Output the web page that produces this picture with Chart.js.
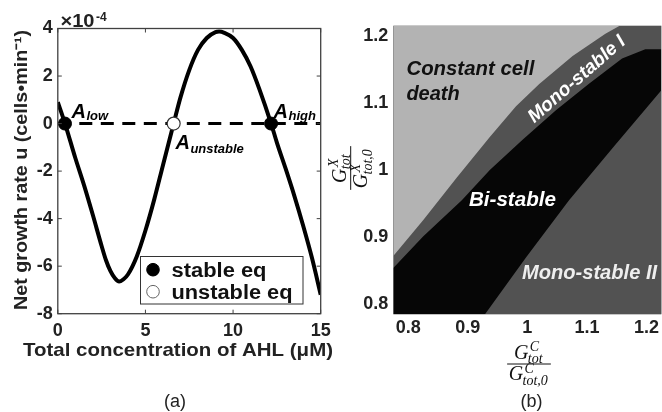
<!DOCTYPE html>
<html><head><meta charset="utf-8">
<script src="https://cdn.jsdelivr.net/npm/chart.js@4.4.1/dist/chart.umd.min.js"></script>
<style>
html,body{margin:0;padding:0;background:#fff;}
#wrap{position:relative;width:662px;height:412px;overflow:hidden;}
canvas{position:absolute;left:0;top:0;}
</style></head><body>
<div id="wrap"><canvas id="ca" width="662" height="412"></canvas><canvas id="cb" width="662" height="412"></canvas></div>
<script>
// ---------- Panel (a) data ----------
const ahlConc    = [0, 0.41, 1.0, 1.5, 2.0, 2.5, 2.75, 3.0, 3.25, 3.5, 3.75, 4.0, 4.5, 5.0, 5.5, 6.0, 6.61, 7.0, 7.5, 8.0, 8.5, 9.0, 9.2, 9.5, 10.0, 10.5, 11.0, 11.5, 12.17, 12.5, 13.0, 13.5, 14.0, 14.5, 15.0];
const growthRate = [0.9, 0, -1.45, -2.6, -3.85, -5.15, -5.75, -6.2, -6.5, -6.65, -6.55, -6.35, -5.6, -4.5, -3.2, -1.75, 0, 1.1, 2.25, 3.1, 3.6, 3.85, 3.87, 3.82, 3.6, 3.1, 2.4, 1.45, 0, -0.8, -1.9, -3.05, -4.3, -5.65, -7.2]; // x1e-4
const zeroLineX   = [0, 15];
const zeroLineY   = [0, 0];
const stableEqX   = [0.41, 12.17];
const stableEqY   = [0, 0];
const unstableEqX = [6.61];
const unstableEqY = [0];
const aXTicks = [0, 5, 10, 15];
const aYTicks = [-8, -6, -4, -2, 0, 2, 4];
const eqLabels = ['A', 'A', 'A'];
const eqSubs   = ['low', 'unstable', 'high'];
const legendLabels = ['stable eq', 'unstable eq'];

// ---------- Panel (b) data ----------
const deathEdgeX = [0.775, 0.825, 0.881, 0.937, 0.981, 1.020, 1.076, 1.131, 1.155, 1.225];
const deathEdgeY = [0.872, 0.925, 0.988, 1.049, 1.095, 1.128, 1.170, 1.203, 1.215, 1.275];
const biTopX     = [0.775, 0.825, 0.890, 0.937, 0.992, 1.048, 1.104, 1.159, 1.198, 1.225];
const biTopY     = [0.854, 0.901, 0.955, 1.000, 1.045, 1.089, 1.129, 1.166, 1.180, 1.180];
const biBottomX  = [0.775, 0.928, 0.998, 1.070, 1.147, 1.225];
const biBottomY  = [0.599, 0.784, 0.870, 0.955, 1.037, 1.119];
const bXTicks = [0.8, 0.9, 1, 1.1, 1.2];
const bXTickLabels = ['0.8', '0.9', '1', '1.1', '1.2'];
const bYTicks = [0.8, 0.9, 1, 1.1, 1.2];
const bYTickLabels = ['0.8', '0.9', '1', '1.1', '1.2'];
const regionNames = ['Constant cell', 'death', 'Mono-stable I', 'Bi-stable', 'Mono-stable II'];

// ---------- helpers ----------
const SANS = "'Liberation Sans', Arial, Helvetica, sans-serif";
const SERIF = "'Liberation Serif', 'Times New Roman', serif";
const pts = (xs, ys) => xs.map((x, i) => ({x: x, y: ys[i]}));

function txt(ctx, s, x, y, font, color, align, targetW, rot) {
  ctx.save();
  ctx.font = font; ctx.fillStyle = color; ctx.textBaseline = 'alphabetic';
  ctx.translate(x, y);
  if (rot) ctx.rotate(rot);
  let sx = 1;
  if (targetW) sx = targetW / ctx.measureText(s).width;
  ctx.scale(sx, 1);
  ctx.textAlign = align || 'left';
  ctx.fillText(s, 0, 0);
  ctx.restore();
}
function textW(ctx, s, font) { ctx.save(); ctx.font = font; const w = ctx.measureText(s).width; ctx.restore(); return w; }

function frac(ctx, cx, cy, rot, sup, subN, subD) {
  ctx.save();
  ctx.translate(cx, cy);
  if (rot) ctx.rotate(rot);
  ctx.fillStyle = '#111'; ctx.strokeStyle = '#111';
  ctx.textAlign = 'left'; ctx.textBaseline = 'alphabetic';
  const big = "italic 20px " + SERIF, small = "italic 14px " + SERIF;
  function part(baseY, sub, supDy, subDy) {
    ctx.font = big; const wG = ctx.measureText('G').width;
    ctx.font = small; const wS = Math.max(ctx.measureText(sup).width, ctx.measureText(sub).width);
    const w = wG + 1 + wS, x0 = -w / 2;
    ctx.font = big; ctx.fillText('G', x0, baseY);
    ctx.font = small;
    ctx.fillText(sup, x0 + wG + 1.5, baseY + supDy);
    ctx.fillText(sub, x0 + wG - 0.5, baseY + subDy);
    return w;
  }
  const w1 = part(-5, subN, -8, 4);
  const w2 = part(16, subD, -7, 5);
  const bw = Math.max(w1, w2) + 3;
  ctx.lineWidth = 1;
  ctx.beginPath(); ctx.moveTo(-bw / 2, 0); ctx.lineTo(bw / 2, 0); ctx.stroke();
  ctx.restore();
}

// ---------- Panel (a) ----------
const panelA = {
  id: 'panelA',
  afterDatasetsDraw(chart) {
    const ctx = chart.ctx, a = chart.chartArea, xs = chart.scales.x, ys = chart.scales.y;
    ctx.save();
    ctx.strokeStyle = '#404040'; ctx.lineWidth = 1.3;
    ctx.strokeRect(a.left, a.top, a.right - a.left, a.bottom - a.top);
    ctx.lineWidth = 1;
    ctx.beginPath();
    aXTicks.forEach(v => {
      const p = xs.getPixelForValue(v);
      ctx.moveTo(p, a.bottom); ctx.lineTo(p, a.bottom - 4);
      ctx.moveTo(p, a.top); ctx.lineTo(p, a.top + 4);
    });
    aYTicks.forEach(v => {
      const p = ys.getPixelForValue(v);
      ctx.moveTo(a.left, p); ctx.lineTo(a.left + 4, p);
      ctx.moveTo(a.right, p); ctx.lineTo(a.right - 4, p);
    });
    ctx.stroke();
    ctx.restore();
  },
  afterDraw(chart) {
    const ctx = chart.ctx, xs = chart.scales.x, ys = chart.scales.y;
    const AF = "italic bold 20px " + SANS, SF = "italic bold 13px " + SANS;
    const aw = textW(ctx, 'A', AF);
    // equilibrium annotations
    const eqXs = [stableEqX[0], unstableEqX[0], stableEqX[1]];
    const offs = [[6.5, -5.5, -3.5], [1.8, 25.2, 29], [2.5, -6, -4]];
    eqXs.forEach((v, i) => {
      const px = xs.getPixelForValue(v), py = ys.getPixelForValue(0);
      const o = offs[i];
      txt(ctx, eqLabels[i], px + o[0], py + o[1], AF, '#000');
      txt(ctx, eqSubs[i], px + o[0] + aw + 0.5, py + o[2], SF, '#000');
    });
    // exponent
    txt(ctx, '\u00d710', 60.5, 26.7, "bold 18px " + SANS, '#222', 'left', 34);
    txt(ctx, '-4', 96, 21, "bold 12px " + SANS, '#222');
    // axis titles
    txt(ctx, 'Total concentration of AHL (\u03bcM)', 178, 356, "bold 19px " + SANS, '#222', 'center', 310);
    txt(ctx, 'Net growth rate u (cells\u2022min\u207b\u00b9)', 26.5, 170, "bold 18px " + SANS, '#222', 'center', 280, -Math.PI / 2);
    // legend
    ctx.save();
    ctx.fillStyle = '#fff'; ctx.fillRect(140.5, 256.5, 162.5, 47.5);
    ctx.strokeStyle = '#333'; ctx.lineWidth = 1; ctx.strokeRect(140.5, 256.5, 162.5, 47.5);
    const ds = chart.data.datasets;
    [[0, 269.7, 276.5], [1, 291.7, 298.5]].forEach(([i, cy, by]) => {
      ctx.beginPath(); ctx.arc(153, cy, 6.3, 0, Math.PI * 2);
      ctx.fillStyle = ds[i].pointBackgroundColor; ctx.fill();
      ctx.lineWidth = 1; ctx.strokeStyle = i === 0 ? '#000' : '#666'; ctx.stroke();
      txt(ctx, legendLabels[i], 171.5, by, "bold 20px " + SANS, '#111', 'left', i === 0 ? 95 : 121);
    });
    ctx.restore();
    txt(ctx, '(a)', 175, 407, "18px " + SANS, '#222', 'center');
  }
};

new Chart(document.getElementById('ca'), {
  type: 'line',
  data: { datasets: [
    {label: legendLabels[0], data: pts(stableEqX, stableEqY), showLine: false, pointRadius: 6.5,
     pointBackgroundColor: '#000', pointBorderColor: '#000', pointBorderWidth: 1, order: 0},
    {label: legendLabels[1], data: pts(unstableEqX, unstableEqY), showLine: false, pointRadius: 6.5,
     pointBackgroundColor: '#fff', pointBorderColor: '#333', pointBorderWidth: 1.2, order: 0},
    {label: 'u', data: pts(ahlConc, growthRate), borderColor: '#000', borderWidth: 4, pointRadius: 0,
     cubicInterpolationMode: 'monotone', fill: false, order: 1},
    {label: 'zero', data: pts(zeroLineX, zeroLineY), borderColor: '#000', borderWidth: 3,
     borderDash: [13, 8.5], pointRadius: 0, fill: false, order: 2}
  ]},
  options: {
    responsive: false, animation: false, devicePixelRatio: 1,
    layout: {padding: {left: 0, top: 28.5, right: 662 - 320.7, bottom: 0}},
    plugins: {legend: {display: false}, tooltip: {enabled: false}},
    scales: {
      x: {type: 'linear', min: 0, max: 15,
          afterBuildTicks: s => { s.ticks = aXTicks.map(v => ({value: v})); },
          afterFit: s => { s.height = 412 - 313.7; },
          grid: {display: false, drawTicks: false}, border: {display: false},
          ticks: {font: {family: SANS, size: 18, weight: 'bold'}, color: '#222', padding: 7,
                  maxRotation: 0, autoSkip: false, callback: v => String(v)}},
      y: {type: 'linear', min: -8, max: 4,
          afterBuildTicks: s => { s.ticks = aYTicks.map(v => ({value: v})); },
          afterFit: s => { s.width = 57.8; },
          grid: {display: false, drawTicks: false}, border: {display: false},
          ticks: {font: {family: SANS, size: 18, weight: 'bold'}, color: '#222', padding: 5,
                  autoSkip: false, callback: v => String(v)}}
    }
  },
  plugins: [panelA]
});

// ---------- Panel (b) ----------
const DARK = '#525252', LIGHT = '#b3b3b3', BLACK = '#060606';
const panelB = {
  id: 'panelB',
  beforeDatasetsDraw(chart) {
    const ctx = chart.ctx, a = chart.chartArea;
    ctx.save(); ctx.fillStyle = DARK;
    ctx.fillRect(a.left, a.top, a.right - a.left, a.bottom - a.top);
    ctx.restore();
  },
  afterDraw(chart) {
    const ctx = chart.ctx, xs = chart.scales.x, ys = chart.scales.y;
    const RF = "italic bold 20px " + SANS;
    const X = v => xs.getPixelForValue(v), Y = v => ys.getPixelForValue(v);
    txt(ctx, regionNames[0], X(0.797), Y(1.1415), RF, '#111', 'left', 128);
    txt(ctx, regionNames[1], X(0.797), Y(1.105), RF, '#111', 'left');
    txt(ctx, regionNames[2], X(1.089), Y(1.129), "italic bold 19px " + SANS, '#fff', 'center', null, -41 * Math.PI / 180);
    txt(ctx, regionNames[3], X(0.975), Y(0.946), RF, '#fff', 'center', 87);
    txt(ctx, regionNames[4], X(1.1044), Y(0.838), RF, '#eeeeee', 'center', 135);
    frac(ctx, 529, 364, 0, 'C', 'tot', 'tot,0');
    frac(ctx, 350.7, 168, -Math.PI / 2, 'X', 'tot', 'tot,0');
    txt(ctx, '(b)', 531.5, 407, "18px " + SANS, '#222', 'center');
  }
};

new Chart(document.getElementById('cb'), {
  type: 'line',
  data: { datasets: [
    {label: 'Constant cell death', data: pts(deathEdgeX, deathEdgeY), borderWidth: 0, pointRadius: 0,
     fill: 'end', backgroundColor: LIGHT, order: 2},
    {label: 'Bi-stable', data: pts(biTopX, biTopY), borderWidth: 0, pointRadius: 0,
     fill: 'start', backgroundColor: BLACK, order: 1},
    {label: 'Mono-stable II', data: pts(biBottomX, biBottomY), borderWidth: 0, pointRadius: 0,
     fill: 'start', backgroundColor: DARK, order: 0}
  ]},
  options: {
    responsive: false, animation: false, devicePixelRatio: 1,
    layout: {padding: {left: 330, top: 25.7, right: 0, bottom: 0}},
    plugins: {legend: {display: false}, tooltip: {enabled: false}},
    scales: {
      x: {type: 'linear', min: 0.775, max: 1.225,
          afterBuildTicks: s => { s.ticks = bXTicks.map(v => ({value: v})); },
          afterFit: s => { s.height = 412 - 314.3; },
          grid: {display: false, drawTicks: false}, border: {display: false},
          ticks: {font: {family: SANS, size: 18, weight: 'bold'}, color: '#222', padding: 3,
                  maxRotation: 0, autoSkip: false, callback: (v, i) => bXTickLabels[i]}},
      y: {type: 'linear', min: 0.785, max: 1.215,
          afterBuildTicks: s => { s.ticks = bYTicks.map(v => ({value: v})); },
          afterFit: s => { s.width = 63.3; },
          grid: {display: false, drawTicks: false}, border: {display: false},
          ticks: {font: {family: SANS, size: 18, weight: 'bold'}, color: '#222', padding: 5,
                  autoSkip: false, callback: (v, i) => bYTickLabels[i]}}
    }
  },
  plugins: [panelB]
});
</script>
</body></html>
